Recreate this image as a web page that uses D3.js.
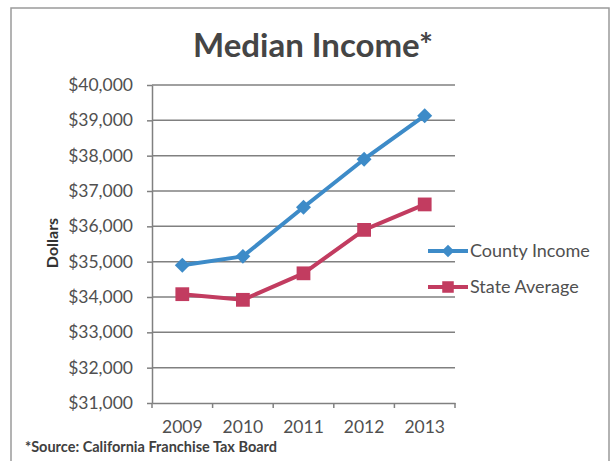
<!DOCTYPE html>
<html>
  <head>
    <meta charset="UTF-8">
    <title>Median Income</title>
  </head>
  <style type="text/css">
    body { margin: 0; background: #fff; }
    text { font-family: Lato, "Open Sans", sans-serif; fill: #4a4a4a; }
    .grid line { stroke: #808080; stroke-width: 1.5; }
    .axis path, .axis line { stroke: #808080; stroke-width: 1.5; }
  </style>
  <body>
    <svg width="610" height="461"></svg>
  </body>
  <script src="https://d3js.org/d3.v7.min.js"></script>
  <script type="text/javascript">
    const years = ['2009', '2010', '2011', '2012', '2013'];
    const county = [34900, 35150, 36540, 37900, 39130];
    const state = [34080, 33920, 34670, 35900, 36620];
    const yTicks = [31000, 32000, 33000, 34000, 35000, 36000, 37000, 38000, 39000, 40000];

    const series = [
      { name: 'County Income', values: county, color: '#3d8bc8', shape: 'diamond' },
      { name: 'State Average', values: state, color: '#c23c60', shape: 'square' }
    ];

    let svg = d3.select('svg');

    // chart frame
    svg.append('rect')
      .attr('x', 11).attr('y', 8)
      .attr('width', 598).attr('height', 470)
      .attr('fill', 'none')
      .attr('stroke', '#9a9a9a')
      .attr('stroke-width', 1.5);

    const plotLeft = 152, plotRight = 455, plotTop = 85, plotBottom = 403;

    const x = d3.scaleBand().domain(years).range([plotLeft, plotRight]);
    const y = d3.scaleLinear().domain([31000, 40000]).range([plotBottom, plotTop]);

    // gridlines
    svg.append('g')
      .attr('class', 'grid')
      .selectAll('line')
      .data(yTicks.filter(d => d > 31000))
      .join('line')
      .attr('x1', plotLeft).attr('x2', plotRight)
      .attr('y1', d => y(d)).attr('y2', d => y(d));

    // y axis
    const yAxis = svg.append('g')
      .attr('class', 'axis')
      .attr('transform', `translate(${plotLeft},0)`)
      .call(d3.axisLeft(y).tickValues(yTicks).tickSize(5).tickSizeOuter(0)
        .tickFormat(d => '$' + d3.format(',')(d)));
    yAxis.selectAll('text')
      .attr('x', -19)
      .style('font-size', '17.5px')
      .style('fill', '#505050');

    // x axis
    const xAxis = svg.append('g')
      .attr('class', 'axis')
      .attr('transform', `translate(0,${plotBottom})`)
      .call(d3.axisBottom(x).tickSize(0).tickSizeOuter(0));
    xAxis.selectAll('text')
      .attr('y', 18)
      .style('font-size', '17.5px')
      .style('fill', '#505050');
    // ticks between categories
    xAxis.selectAll('.between')
      .data(years.concat(['end']))
      .join('line')
      .attr('class', 'between')
      .attr('x1', (d, i) => plotLeft + i * x.bandwidth())
      .attr('x2', (d, i) => plotLeft + i * x.bandwidth())
      .attr('y1', 0).attr('y2', 5);

    const cx = d => x(d) + x.bandwidth() / 2;

    const line = d3.line()
      .x((d, i) => cx(years[i]))
      .y(d => y(d));

    const marker = (shape, scale) => shape === 'diamond'
      ? d3.symbol().type(d3.symbolSquare).size(112 * scale)
      : d3.symbol().type(d3.symbolSquare).size(190 * scale);

    series.forEach(s => {
      svg.append('path')
        .datum(s.values)
        .attr('fill', 'none')
        .attr('stroke', s.color)
        .attr('stroke-width', 4)
        .attr('stroke-linejoin', 'round')
        .attr('d', line);

      svg.append('g')
        .selectAll('path')
        .data(s.values)
        .join('path')
        .attr('d', marker(s.shape, 1))
        .attr('fill', s.color)
        .attr('transform', (d, i) => `translate(${cx(years[i])},${y(d)})` +
          (s.shape === 'diamond' ? ' rotate(45)' : ''));
    });

    // legend
    const legend = svg.append('g')
      .selectAll('g')
      .data(series)
      .join('g')
      .attr('transform', (d, i) => `translate(428,${251 + i * 36})`);
    legend.append('line')
      .attr('x1', 0).attr('x2', 40)
      .attr('stroke', d => d.color)
      .attr('stroke-width', 4);
    legend.append('path')
      .attr('d', d => marker(d.shape, 0.7)())
      .attr('fill', d => d.color)
      .attr('transform', d => 'translate(20,0)' + (d.shape === 'diamond' ? ' rotate(45)' : ''));
    legend.append('text')
      .attr('x', 42)
      .attr('dy', '0.35em')
      .style('font-size', '18px')
      .style('fill', '#505050')
      .text(d => d.name);

    // title
    svg.append('text')
      .attr('x', 313).attr('y', 57)
      .attr('text-anchor', 'middle')
      .style('font-size', '33px')
      .style('font-weight', 'bold')
      .style('fill', '#454545')
      .text('Median Income*');

    // y axis title
    svg.append('text')
      .attr('transform', 'translate(58,243) rotate(-90)')
      .attr('text-anchor', 'middle')
      .style('font-size', '16px')
      .style('font-weight', 'bold')
      .style('fill', '#333')
      .text('Dollars');

    // source note
    svg.append('text')
      .attr('x', 25).attr('y', 452)
      .style('font-size', '14.5px')
      .style('font-weight', 'bold')
      .style('fill', '#404040')
      .text('*Source: California Franchise Tax Board');
  </script>
</html>
